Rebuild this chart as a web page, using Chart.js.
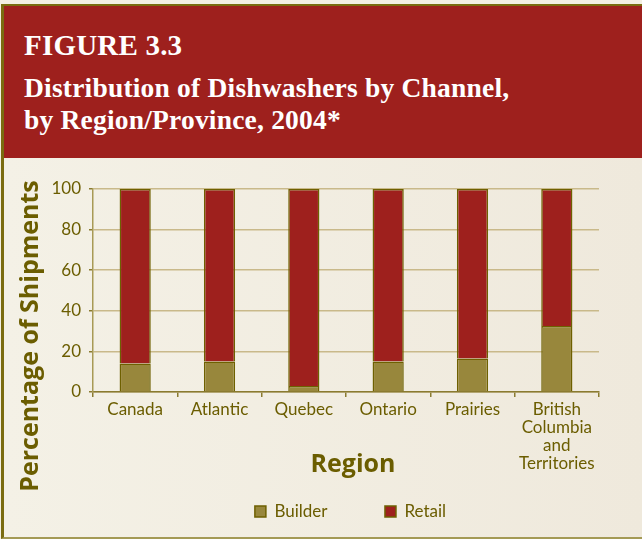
<!DOCTYPE html>
<html>
<head>
<meta charset="utf-8">
<script src="https://cdn.jsdelivr.net/npm/chart.js@4.4.1/dist/chart.umd.min.js"></script>
<style>
  html, body { margin: 0; padding: 0; width: 642px; height: 539px; overflow: hidden; background: #f3efe3; }
  #frame {
    position: absolute; left: 1px; top: 4px; width: 639px; height: 531px;
    border-left: 3px solid #7a6c10; border-top: 2px solid #7a6c10; border-bottom: 2px solid #a49a55;
    background: linear-gradient(to right, #f4f1e6, #efe9dc);
  }
  #header {
    position: absolute; left: 0; top: 0; width: 639px; height: 152px;
    background: #9e201d; color: #fff; font-family: "Liberation Serif", "DejaVu Serif", serif; font-weight: bold;
  }
  #fig { position: absolute; left: 20px; top: 22px; font-size: 29px; line-height: 34px; letter-spacing: 0.2px; }
  #sub { position: absolute; left: 20px; top: 66px; font-size: 27.5px; line-height: 32px; letter-spacing: 0.2px; }
  #chartBox { position: absolute; left: 0; top: 152px; width: 636px; height: 377px; }
</style>
</head>
<body>
<div id="frame">
  <div id="header">
    <div id="fig">FIGURE 3.3</div>
    <div id="sub">Distribution of Dishwashers by Channel,<br>by Region/Province, 2004*</div>
  </div>
  <div id="chartBox"><canvas id="chart" width="636" height="377"></canvas></div>
</div>
<script>
const regions = ['Canada', 'Atlantic', 'Quebec', 'Ontario', 'Prairies', ['British', 'Columbia', 'and', 'Territories']];
const builder = [14, 15, 3, 15, 16.5, 32.5];
const retail = [86, 85, 97, 85, 83.5, 67.5];
const yTicks = [0, 20, 40, 60, 80, 100];

const olive = '#6b5d00';
const titleFont = 'bold 25px "Open Sans"';

// axis titles drawn at the same spots as the printed figure (they sit off-centre there)
const axisTitles = {
    id: 'axisTitles',
    afterLayout(chart) {
        chart.legend.left += 49;
        chart.legend.right += 49;
    },
    afterDraw(chart) {
        const c = chart.ctx;
        c.save();
        c.fillStyle = olive;
        c.font = titleFont;
        c.textAlign = 'center';
        c.textBaseline = 'middle';
        c.fillText('Region', 349, 307);
        c.translate(27, 178);
        c.rotate(-Math.PI / 2);
        c.fillText('Percentage of Shipments', 0, 0);
        c.restore();
    }
};

const ctx = document.getElementById('chart').getContext('2d');
new Chart(ctx, {
    type: 'bar',
    data: {
        labels: regions,
        datasets: [
            {
                label: 'Builder' + '\u00a0'.repeat(11),
                data: builder,
                backgroundColor: '#98873c',
                borderColor: '#6e6000',
                borderWidth: 1.5,
                barPercentage: 0.37,
                categoryPercentage: 1
            },
            {
                label: 'Retail',
                data: retail,
                backgroundColor: '#9e201d',
                borderColor: '#6e6000',
                borderWidth: 1.5,
                barPercentage: 0.37,
                categoryPercentage: 1
            }
        ]
    },
    plugins: [axisTitles],
    options: {
        responsive: false,
        animation: false,
        layout: { padding: { left: 0, right: 41, top: 31, bottom: 5 } },
        plugins: {
            title: { display: false },
            tooltip: { enabled: false },
            legend: {
                position: 'bottom',
                labels: {
                    boxWidth: 11,
                    boxHeight: 11,
                    padding: 10,
                    color: olive,
                    font: { family: 'Lato', size: 17 }
                }
            }
        },
        scales: {
            x: {
                stacked: true,
                afterFit: scale => { scale.height = 101; },
                grid: { display: true, drawOnChartArea: false, tickLength: 5, color: '#8a7b30', lineWidth: 1.5 },
                border: { display: true, color: '#8a7b30', width: 1.5 },
                ticks: {
                    color: olive,
                    padding: 4,
                    maxRotation: 0,
                    autoSkip: false,
                    font: { family: 'Lato', size: 17, lineHeight: 1.05 }
                },
                title: { display: false }
            },
            y: {
                stacked: true,
                min: 0,
                max: 100,
                afterFit: scale => { scale.width = 89; },
                afterBuildTicks: scale => { scale.ticks = yTicks.map(v => ({ value: v })); },
                grid: { color: '#c9b98a', lineWidth: 1.5, tickLength: 4, tickColor: '#8a7b30' },
                border: { display: true, color: '#a89a55', width: 1.5 },
                ticks: {
                    color: olive,
                    padding: 8,
                    font: { family: 'Lato', size: 17 }
                },
                title: { display: false }
            }
        }
    }
});
</script>
</body>
</html>
